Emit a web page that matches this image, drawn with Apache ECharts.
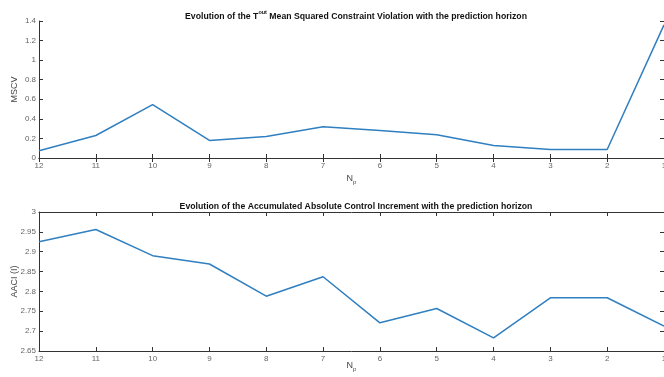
<!DOCTYPE html>
<html><head><meta charset="utf-8">
<script src="https://cdn.jsdelivr.net/npm/echarts@6/dist/echarts.min.js"></script>
<style>html,body{margin:0;padding:0;background:#fff}#c{width:664px;height:377px}</style>
</head><body><div id="c"></div>
<script>
const categories = ['12','11','10','9','8','7','6','5','4','3','2','1'];
const mscv = [0.075, 0.23, 0.545, 0.18, 0.22, 0.32, 0.28, 0.237, 0.128, 0.087, 0.087, 1.36];
const aaci = [2.925, 2.956, 2.89, 2.869, 2.788, 2.837, 2.721, 2.757, 2.683, 2.784, 2.784, 2.713];
const topTicks = ['0','0.2','0.4','0.6','0.8','1','1.2','1.4'];
const botTicks = ['2.65','2.7','2.75','2.8','2.85','2.9','2.95','3'];

const chart = echarts.init(document.getElementById('c'), null, {renderer:'canvas'});
const lineCol = '#2f7fc1';
const axCol = '#333';
const lblCol = '#666';
const font = 'Liberation Sans, Arial, sans-serif';
const grids = [
  {left:39, right:0, top:21, height:137, containLabel:false, outerBoundsMode:'none'},
  {left:39, right:0, top:212, height:139, containLabel:false, outerBoundsMode:'none'}
];
function xAx(i, pos, show, gap){
  return {type:'category', gridIndex:i, data:categories, boundaryGap:false, position:pos,
    axisLine:{show:true, lineStyle:{color:axCol, width:1}},
    axisTick:{show:true, inside:true, length:4, lineStyle:{color:axCol}},
    axisLabel:{show:show, color:lblCol, fontSize:8, fontFamily:font, margin:4},
    splitLine:{show:false},
    name: show ? '{n|N}{s|p}' : '', nameLocation:'middle', nameGap:gap || 16, nameMoveOverlap:false,
    nameTextStyle:{rich:{n:{fontSize:9, color:'#444', fontFamily:font}, s:{fontSize:6, color:'#444', fontFamily:font, verticalAlign:'bottom', padding:[6,0,0,0]}}}
  };
}
function yAx(i, pos, show, min, max, interval, name, fmt){
  return {type:'value', gridIndex:i, min:min, max:max, interval:interval, position:pos,
    axisLine:{show:true, lineStyle:{color:axCol, width:1}},
    axisTick:{show:true, inside:true, length:4, lineStyle:{color:axCol}},
    axisLabel:{show:show, color:lblCol, fontSize:8, fontFamily:font, margin:3, formatter:fmt},
    splitLine:{show:false},
    name: show ? name : '', nameLocation:'middle', nameGap:20, nameRotate:90, nameMoveOverlap:false,
    nameTextStyle:{fontSize:9, color:'#444', fontFamily:font}
  };
}
const fmtTop = v => topTicks[Math.round(v/0.2)];
const fmtBot = v => botTicks[Math.round((v-2.65)/0.05)];
const tStyle = {fontSize:8.7, fontWeight:'bold', color:'#111', fontFamily:font};
const option = {
  animation:false,
  backgroundColor:'#fff',
  title:[
    {text:'{m|Evolution of the T}{sup|out}{m| Mean Squared Constraint Violation with the prediction horizon}', left:351, top:4, textAlign:'center',
     textStyle:Object.assign({}, tStyle, {
       rich:{m:Object.assign({}, tStyle, {lineHeight:12, verticalAlign:'bottom'}),
             sup:{fontSize:5.5, fontWeight:'bold', color:'#111', fontFamily:font, lineHeight:12, verticalAlign:'top', padding:[0,0,0,0]}}})},
    {text:'Evolution of the Accumulated Absolute Control Increment with the prediction horizon', left:351, top:197, textAlign:'center',
     textStyle:tStyle}
  ],
  grid:grids,
  xAxis:[xAx(0,'bottom',true,15), xAx(0,'top',false), xAx(1,'bottom',true,9), xAx(1,'top',false)],
  yAxis:[yAx(0,'left',true,0,1.4,0.2,'MSCV',fmtTop), yAx(0,'right',false,0,1.4,0.2,'',fmtTop),
         yAx(1,'left',true,2.65,3.0,0.05,'AACI (I)',fmtBot), yAx(1,'right',false,2.65,3.0,0.05,'',fmtBot)],
  series:[
    {type:'line', xAxisIndex:0, yAxisIndex:0, data:mscv, showSymbol:false, lineStyle:{color:lineCol, width:1.5}},
    {type:'line', xAxisIndex:2, yAxisIndex:2, data:aaci, showSymbol:false, lineStyle:{color:lineCol, width:1.5}}
  ]
};
chart.setOption(option);
</script></body></html>
